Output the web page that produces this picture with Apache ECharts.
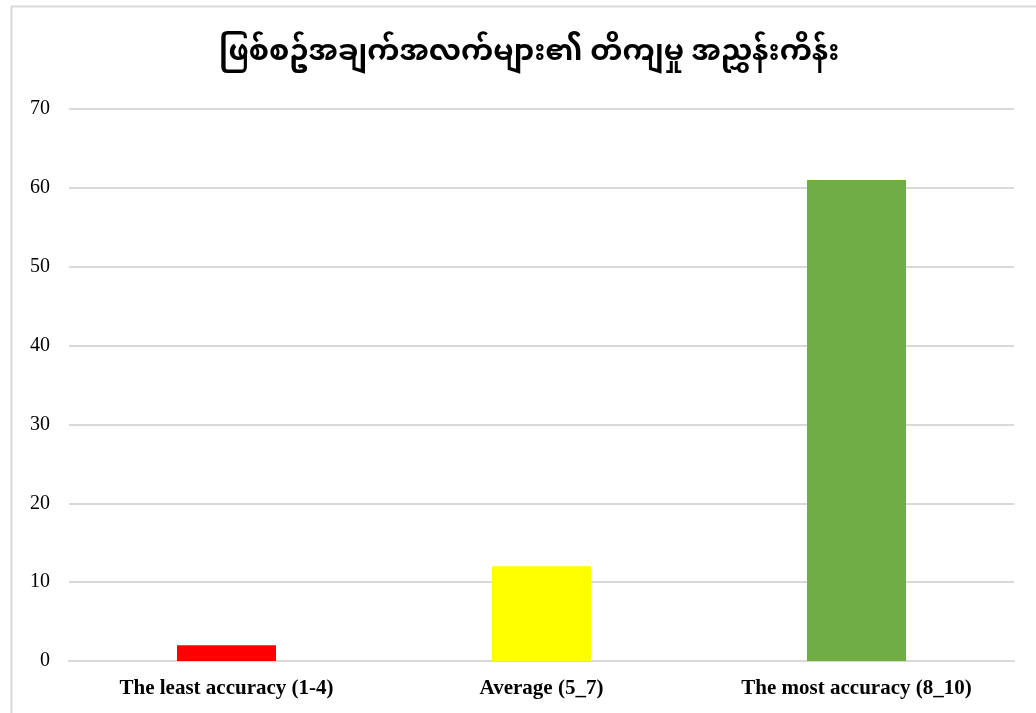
<!DOCTYPE html>
<html>
<head>
<meta charset="utf-8">
<script src="https://cdn.jsdelivr.net/npm/echarts@6/dist/echarts.min.js"></script>
<style>
  html, body { margin: 0; padding: 0; background: #fff; }
  #chart { width: 1036px; height: 713px; }
</style>
</head>
<body>
<div id="chart"></div>
<script>
	// 数据
	var titleText = 'ဖြစ်စဥ်အချက်အလက်များ၏ တိကျမှု အညွှန်းကိန်း';
	var categories = [ 'The least accuracy (1-4)', 'Average (5_7)', 'The most accuracy (8_10)' ];
	var values = [ 2, 12, 61 ];
	var colors = [ '#ff0000', '#ffff00', '#70ad47' ];

	var serif = '"Liberation Serif", "Times New Roman", serif';

	var chart = echarts.init(document.getElementById('chart'));
	chart.setOption({
		animation : false,
		title : {
			text : titleText,
			left : 214,
			top : 37,
			textStyle : {
				fontSize : 29,
				fontWeight : 'bold',
				color : '#000',
				fontFamily : '"Noto Sans Myanmar", "Padauk", "Myanmar Text", "Noto Sans", sans-serif'
			}
		},
		graphic : [ {
			type : 'rect',
			shape : { x : 11.5, y : 6.5, width : 1040, height : 720 },
			style : { fill : 'none', stroke : '#d9d9d9', lineWidth : 2 },
			silent : true
		} ],
		grid : {
			left : 69,
			right : 22,
			top : 109,
			bottom : 52
		},
		xAxis : {
			type : 'category',
			data : categories,
			axisTick : { show : false },
			axisLine : { lineStyle : { color : '#d9d9d9', width : 2 } },
			axisLabel : {
				color : '#000',
				fontFamily : serif,
				fontWeight : 'bold',
				fontSize : 21,
				margin : 17
			}
		},
		yAxis : {
			type : 'value',
			min : 0,
			max : 70,
			interval : 10,
			axisLine : { show : false },
			axisTick : { show : false },
			axisLabel : {
				color : '#000',
				fontFamily : serif,
				fontSize : 20,
				margin : 19
			},
			splitLine : { lineStyle : { color : '#d9d9d9', width : 2 } }
		},
		series : [ {
			type : 'bar',
			barWidth : 99,
			data : values.map(function(v, i) {
				return { value : v, itemStyle : { color : colors[i] } };
			})
		} ]
	});
</script>
</body>
</html>
